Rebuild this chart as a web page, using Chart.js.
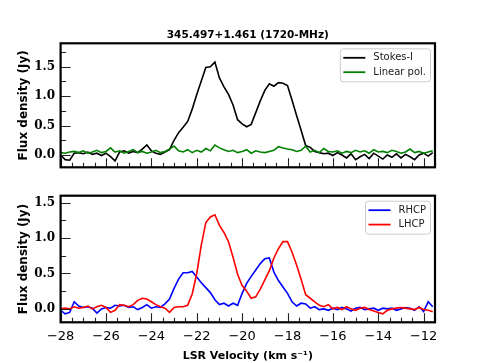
<!DOCTYPE html>
<html>
<head>
<meta charset="utf-8">
<script src="https://cdn.jsdelivr.net/npm/chart.js@4"></script>
<style>
  body { margin: 0; background: #fff; }
  #wrap { position: relative; width: 484px; height: 363px; }
  canvas { position: absolute; left: 0; }
  #top { top: 0; }
  #bottom { top: 180px; }
</style>
</head>
<body>
<div id="wrap">
  <canvas id="top" width="484" height="180"></canvas>
  <canvas id="bottom" width="484" height="183"></canvas>
</div>
<script>
// LSR velocity channels (km/s)
const velocity = [
  -28.0, -27.8, -27.6, -27.4, -27.2, -27.0, -26.8, -26.6, -26.4, -26.2,
  -26.0, -25.8, -25.6, -25.4, -25.2, -25.0, -24.8, -24.6, -24.4, -24.2,
  -24.0, -23.8, -23.6, -23.4, -23.2, -23.0, -22.8, -22.6, -22.4, -22.2,
  -22.0, -21.8, -21.6, -21.4, -21.2, -21.0, -20.8, -20.6, -20.4, -20.2,
  -20.0, -19.8, -19.6, -19.4, -19.2, -19.0, -18.8, -18.6, -18.4, -18.2,
  -18.0, -17.8, -17.6, -17.4, -17.2, -17.0, -16.8, -16.6, -16.4, -16.2,
  -16.0, -15.8, -15.6, -15.4, -15.2, -15.0, -14.8, -14.6, -14.4, -14.2,
  -14.0, -13.8, -13.6, -13.4, -13.2, -13.0, -12.8, -12.6, -12.4, -12.2,
  -12.0, -11.8, -11.6
];

// flux densities (Jy)
const stokesI = [
  0.0, -0.08, -0.09, 0.03, 0.04, 0.02, 0.05, 0.01, 0.03, -0.01,
  0.03, -0.03, -0.1, 0.05, 0.07, 0.03, 0.06, 0.04, 0.1, 0.17,
  0.07, 0.03, 0.01, 0.05, 0.09, 0.25, 0.38, 0.47, 0.57, 0.78,
  1.03, 1.26, 1.49, 1.5, 1.58, 1.31, 1.16, 1.03, 0.85, 0.6,
  0.53, 0.48, 0.52, 0.72, 0.92, 1.1, 1.21, 1.17, 1.23, 1.22,
  1.18, 0.93, 0.67, 0.42, 0.16, 0.13, 0.06, 0.04, 0.02, 0.03,
  -0.01, 0.04, 0.0, -0.05, 0.02, -0.08, -0.03, 0.01, -0.06, 0.03,
  -0.02, -0.07, 0.0, -0.04, 0.02, -0.05, 0.01, -0.03, -0.08, 0.0,
  0.03, -0.02, 0.04
];
const linearPol = [
  0.04, 0.03, 0.05, 0.06, 0.04, 0.07, 0.03, 0.05, 0.08, 0.04,
  0.06, 0.12, 0.05, 0.07, 0.03, 0.06, 0.09, 0.04, 0.06, 0.03,
  0.05, 0.08, 0.04, 0.06, 0.1, 0.15, 0.07, 0.05, 0.09, 0.04,
  0.08, 0.05, 0.11, 0.07, 0.17, 0.12, 0.09, 0.06, 0.08, 0.04,
  0.06, 0.09, 0.03, 0.07, 0.05, 0.04, 0.06, 0.08, 0.14, 0.12,
  0.1, 0.09, 0.06, 0.08, 0.15, 0.05, 0.08, 0.04, 0.11, 0.06,
  0.05, 0.07, 0.03, 0.06, 0.04, 0.08, 0.05, 0.07, 0.03, 0.09,
  0.05, 0.06, 0.04, 0.08, 0.06, 0.03, 0.05, 0.1, 0.04, 0.06,
  0.03, 0.05, 0.07
];
const rhcp = [
  -0.02, -0.07, -0.05, 0.1, 0.04, 0.02, 0.03, 0.01, -0.06, 0.0,
  0.02, 0.01, 0.05, 0.04, 0.05, 0.02, 0.03, -0.01, 0.02, 0.06,
  0.01, 0.03, 0.02, 0.07, 0.14, 0.29, 0.42, 0.51, 0.51, 0.53,
  0.45, 0.37, 0.3, 0.23, 0.13, 0.06, 0.08, 0.04, 0.08, 0.05,
  0.22, 0.36, 0.46, 0.55, 0.64, 0.71, 0.72, 0.52, 0.4, 0.31,
  0.22, 0.1, 0.04, 0.08, 0.07, 0.01, 0.03, -0.01, 0.0, -0.02,
  0.01, -0.01, 0.02, 0.0, -0.03, 0.01, 0.02, -0.01, 0.0, 0.01,
  -0.02, 0.01, 0.0, 0.01, -0.02, 0.0, 0.02, 0.01, -0.02, 0.03,
  -0.04, 0.1, 0.03
];
const lhcp = [
  0.0, 0.01, 0.0, 0.03, 0.01, 0.02, 0.04, 0.0, 0.03, 0.05,
  0.02, -0.05, -0.02, 0.06, 0.05, 0.03, 0.06, 0.12, 0.15, 0.14,
  0.1, 0.06, 0.03, 0.01, -0.05, 0.02, 0.03, 0.03, 0.05, 0.21,
  0.5, 0.9, 1.22, 1.3, 1.33, 1.18, 1.08, 0.95, 0.73, 0.49,
  0.33, 0.25, 0.15, 0.17, 0.28, 0.41, 0.54, 0.72, 0.85, 0.95,
  0.95, 0.8, 0.62, 0.42, 0.2, 0.15, 0.1, 0.05, 0.03, 0.06,
  0.0, 0.02, -0.01, 0.03, 0.0, -0.02, 0.01, 0.02, -0.01, -0.03,
  -0.05, -0.07, -0.02, 0.0, 0.01, 0.02, 0.01, 0.0, -0.01, 0.02,
  -0.01, -0.02, -0.04
];

const pts = (vals) => velocity.map((v, i) => ({x: v, y: vals[i]}));

const isMult = (v, step) => Math.abs(v / step - Math.round(v / step)) < 1e-6;

// inward ticks, thick frame, in-axes legend and panel title, matplotlib style
const decor = {
  id: 'decor',
  afterDatasetsDraw(chart, args, opts) {
    const {ctx, chartArea: a} = chart;
    const xs = chart.scales.x, ys = chart.scales.y;
    ctx.save();
    ctx.strokeStyle = '#222';
    ctx.lineWidth = 1.1;
    ctx.beginPath();
    xs.ticks.forEach(t => {
      if (t.value < xs.min || t.value > xs.max) return;
      const px = Math.round(xs.getPixelForValue(t.value)) + 0.5;
      const len = isMult(t.value, 2) ? 9 : 4.5;
      ctx.moveTo(px, a.bottom);
      ctx.lineTo(px, a.bottom - len);
    });
    ys.ticks.forEach(t => {
      if (!isMult(t.value, 0.25) || t.value < ys.min || t.value > ys.max) return;
      const py = Math.round(ys.getPixelForValue(t.value)) + 0.5;
      const len = isMult(t.value, 0.5) ? 10 : 5.5;
      ctx.moveTo(a.left, py);
      ctx.lineTo(a.left + len, py);
    });
    ctx.stroke();

    ctx.strokeStyle = '#000';
    ctx.lineWidth = 2.2;
    ctx.strokeRect(a.left, a.top, a.right - a.left, a.bottom - a.top);

    if (opts.title) {
      ctx.fillStyle = '#000';
      ctx.font = 'bold 10.5px "DejaVu Sans"';
      ctx.textAlign = 'center';
      ctx.textBaseline = 'middle';
      ctx.fillText(opts.title, (a.left + a.right) / 2, 35);
      ctx.textAlign = 'left';
    }

    // legend
    const sets = chart.data.datasets;
    ctx.font = '10px "DejaVu Sans"';
    const tw = Math.max(...sets.map(d => ctx.measureText(d.label).width));
    const bw = 3.5 + 22 + 8 + tw + 4;
    const bh = 33;
    const bx = a.right - 5 - bw, by = a.top + 5;
    ctx.fillStyle = 'rgba(255,255,255,0.85)';
    ctx.strokeStyle = '#cccccc';
    ctx.lineWidth = 1;
    ctx.beginPath();
    ctx.roundRect(bx + 0.5, by + 0.5, bw, bh, 3);
    ctx.fill();
    ctx.stroke();
    sets.forEach((d, i) => {
      const ry = by + 9.5 + i * 14.4;
      ctx.strokeStyle = d.borderColor;
      ctx.lineWidth = 1.8;
      ctx.beginPath();
      ctx.moveTo(bx + 3.5, ry);
      ctx.lineTo(bx + 25.5, ry);
      ctx.stroke();
      ctx.fillStyle = '#222';
      ctx.textBaseline = 'middle';
      ctx.fillText(d.label, bx + 33.5, ry);
    });
    ctx.restore();
  }
};

const fmtV = (v) => v < 0 ? '\u2212' + Math.abs(v) : String(v);

function makeOptions(cfg) {
  return {
    responsive: false,
    animation: false,
    devicePixelRatio: 1,
    layout: { padding: { top: cfg.padTop, right: 49, left: 0, bottom: 0 } },
    plugins: {
      legend: { display: false },
      tooltip: { enabled: false },
      title: { display: false },
      decor: { title: cfg.title }
    },
    elements: { point: { radius: 0 }, line: { tension: 0, borderWidth: 1.6 } },
    scales: {
      x: {
        type: 'linear',
        min: -28,
        max: -11.5,
        border: { display: false },
        grid: { display: false, drawTicks: false },
        ticks: {
          display: cfg.xLabels,
          stepSize: 0.5,
          autoSkip: false,
          maxRotation: 0,
          includeBounds: false,
          padding: 6.5,
          color: '#000',
          font: { family: 'DejaVu Sans', size: 13 },
          callback: (v) => isMult(v, 2) ? fmtV(Math.round(v)) : ''
        },
        title: cfg.xLabels ? {
          display: true,
          text: 'LSR Velocity (km s\u207B\u00B9)',
          color: '#000',
          font: { family: 'DejaVu Sans', size: 11, weight: 'bold' },
          padding: { top: 2.4, bottom: 0 }
        } : { display: false },
        afterFit: (s) => { s.height = cfg.xHeight; }
      },
      y: {
        min: cfg.yMin,
        max: cfg.yMax,
        border: { display: false },
        grid: { display: false, drawTicks: false },
        ticks: {
          stepSize: 0.25,
          includeBounds: false,
          padding: 5.5,
          color: '#000',
          font: { family: 'DejaVu Serif', size: 12, weight: 'bold' },
          callback: (v) => isMult(v, 0.5) ? v.toFixed(1) : ''
        },
        title: {
          display: true,
          text: 'Flux density (Jy)',
          color: '#000',
          font: { family: 'DejaVu Sans', size: 12, weight: 'bold' },
          padding: { top: 17, bottom: 0 }
        },
        afterFit: (s) => { s.width = 60.6; }
      }
    }
  };
}

new Chart(document.getElementById('top'), {
  type: 'line',
  data: {
    datasets: [
      { label: 'Stokes-I', data: pts(stokesI), borderColor: '#000000', order: 2 },
      { label: 'Linear pol.', data: pts(linearPol), borderColor: '#008000', order: 1 }
    ]
  },
  options: makeOptions({
    title: '345.497+1.461 (1720-MHz)', padTop: 43.3, xLabels: false, xHeight: 10,
    yMin: -0.21, yMax: 1.9
  }),
  plugins: [decor]
});

new Chart(document.getElementById('bottom'), {
  type: 'line',
  data: {
    datasets: [
      { label: 'RHCP', data: pts(rhcp), borderColor: '#0000ff', order: 2 },
      { label: 'LHCP', data: pts(lhcp), borderColor: '#ff0000', order: 1 }
    ]
  },
  options: makeOptions({
    title: null, padTop: 15.7, xLabels: true, xHeight: 40.7,
    yMin: -0.19, yMax: 1.6
  }),
  plugins: [decor]
});
</script>
</body>
</html>
